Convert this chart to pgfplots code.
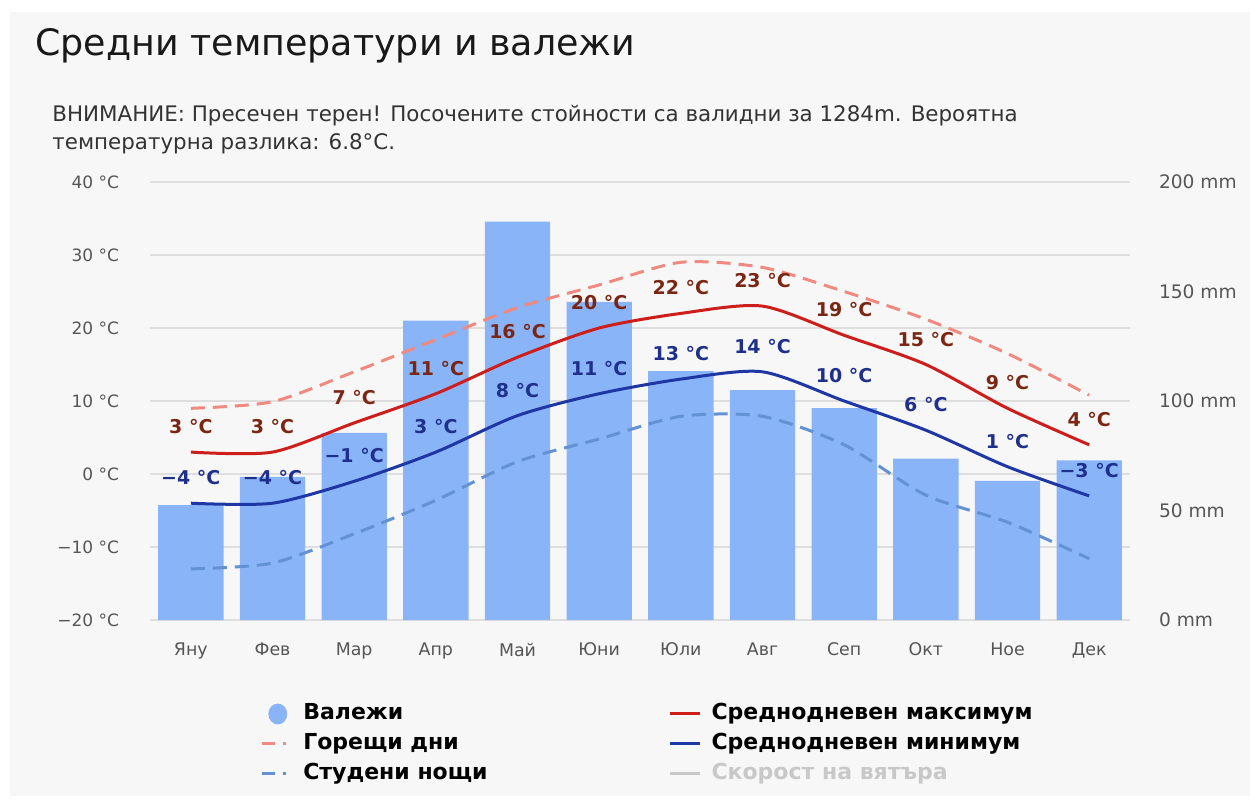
\documentclass[border=0pt]{standalone}
\usepackage{fontspec}
\setmainfont{DejaVu Sans}
\usepackage{pgfplots}
\pgfplotsset{compat=1.18}

\definecolor{panel}{RGB}{247,247,247}
\definecolor{gridc}{RGB}{222,222,222}
\definecolor{tickc}{RGB}{85,85,85}
\definecolor{barc}{RGB}{138,180,248}
\definecolor{maxc}{RGB}{205,30,28}
\definecolor{minc}{RGB}{30,55,165}
\definecolor{hotc}{RGB}{240,138,128}
\definecolor{coldc}{RGB}{98,146,212}
\definecolor{maxlab}{RGB}{122,38,18}
\definecolor{minlab}{RGB}{30,48,140}
\definecolor{windc}{RGB}{200,200,200}

\begin{document}
\begin{tikzpicture}
% page 1255x800 px, 1px = 0.5pt
\fill[white] (0,0) rectangle (627.5pt,400pt);
\fill[panel] (5pt,2pt) rectangle (625pt,394pt);
\node[anchor=base west, inner sep=0pt, font=\fontsize{18.2}{22}\selectfont, text=black!90]
  at (17.5pt,372pt) {Средни температури и валежи};
\node[anchor=base west, inner sep=0pt, align=left, font=\fontsize{10.7}{14}\selectfont, text=black!80]
  at (26pt,325pt) {ВНИМАНИЕ: Пресечен терен! Посочените стойности са валидни за 1284m. Вероятна\\температурна разлика: 6.8°C.};

% precipitation (right axis, bars)
\begin{axis}[
  at={(75pt,90pt)}, anchor=south west, scale only axis,
  width=490pt, height=219pt,
  xmin=-0.5, xmax=11.5, ymin=0, ymax=200,
  hide x axis, axis y line*=right, axis line style={draw=none},
  major tick length=0pt,
  ytick={0,50,...,200}, yticklabels={0 mm,50 mm,100 mm,150 mm,200 mm},
  yticklabel style={font=\fontsize{9.3}{10}\selectfont, text=tickc, xshift=11pt},
  extra y ticks={0,33.333,66.667,100,133.333,166.667,200},
  extra y tick labels={},
  extra y tick style={grid=major, major grid style={gridc, line width=0.6pt}},
  ybar, bar width=0.8,
]
\addplot[fill=barc, draw=none] coordinates {
  (0,52.5) (1,65.4) (2,85.5) (3,136.7) (4,181.9) (5,145.3)
  (6,113.7) (7,105.0) (8,96.7) (9,73.7) (10,63.5) (11,72.9)};
\end{axis}

% temperatures (left axis, lines)
\begin{axis}[
  at={(75pt,90pt)}, anchor=south west, scale only axis,
  width=490pt, height=219pt,
  xmin=-0.5, xmax=11.5, ymin=-20, ymax=40,
  axis x line*=bottom, axis y line*=left, axis line style={draw=none},
  major tick length=0pt,
  xtick={0,...,11},
  xticklabels={Яну,Фев,Мар,Апр,Май,Юни,Юли,Авг,Сеп,Окт,Ное,Дек},
  xticklabel style={font=\fontsize{8.7}{10}\selectfont, text=tickc, yshift=-8pt},
  ytick={-20,-10,...,40},
  yticklabels={−20 °C,−10 °C,0 °C,10 °C,20 °C,30 °C,40 °C},
  yticklabel style={font=\fontsize{8.5}{10}\selectfont, text=tickc, xshift=-12pt},
  legend columns=2, legend cell align=left,
  legend style={at={(0.106,-0.176)}, anchor=north west, draw=none, fill=none,
    font=\bfseries\fontsize{11}{12}\selectfont, row sep=2.5pt,
    nodes={inner sep=1pt, text height=8pt, text depth=2.5pt},
    /tikz/every odd column/.append style={column sep=4pt},
    /tikz/every even column/.append style={column sep=89.5pt}},
  every node near coord/.append style={font=\bfseries\fontsize{9.5}{10}\selectfont,
    anchor=south, inner sep=1pt, text depth=0pt, yshift=7.5pt},
]
\addplot[forget plot, hotc, line width=1.5pt, dash pattern=on 7pt off 4pt, smooth, tension=0.45]
  coordinates {(0,9) (1,9.9) (2,14) (3,18.4) (4,22.8) (5,25.9)
  (6,29) (7,28.3) (8,25) (9,21.2) (10,16.5) (11,10.8)};
\addplot[forget plot, coldc, line width=1.5pt, dash pattern=on 7pt off 4pt, smooth, tension=0.45]
  coordinates {(0,-13) (1,-12.2) (2,-8.2) (3,-3.6) (4,1.7) (5,4.8)
  (6,7.9) (7,7.9) (8,4) (9,-2.9) (10,-6.6) (11,-11.6)};
\addplot[forget plot, maxc, line width=1.5pt, smooth, tension=0.45,
  point meta=explicit symbolic, nodes near coords,
  every node near coord/.append style={text=maxlab}]
  coordinates {(0,3) [3 °C] (1,3) [3 °C] (2,7) [7 °C] (3,11) [11 °C]
  (4,16) [16 °C] (5,20) [20 °C] (6,22) [22 °C] (7,23) [23 °C]
  (8,19) [19 °C] (9,15) [15 °C] (10,9) [9 °C] (11,4) [4 °C]};
\addplot[forget plot, minc, line width=1.5pt, smooth, tension=0.45,
  point meta=explicit symbolic, nodes near coords,
  every node near coord/.append style={text=minlab}]
  coordinates {(0,-4) [−4 °C] (1,-4) [−4 °C] (2,-1) [−1 °C] (3,3) [3 °C]
  (4,8) [8 °C] (5,11) [11 °C] (6,13) [13 °C] (7,14) [14 °C]
  (8,10) [10 °C] (9,6) [6 °C] (10,1) [1 °C] (11,-3) [−3 °C]};

\addlegendimage{legend image code/.code={\fill[barc] (8pt,0pt) ellipse (4.5pt and 5pt);}}
\addlegendentry{Валежи}
\addlegendimage{legend image code/.code={\draw[maxc, line width=1.5pt] (0pt,0pt) -- (15pt,0pt);}}
\addlegendentry{Среднодневен максимум}
\addlegendimage{legend image code/.code={\draw[hotc, line width=1.5pt, dash pattern=on 6.5pt off 4pt on 1.5pt off 4pt] (0pt,0pt) -- (15pt,0pt);}}
\addlegendentry{Горещи дни}
\addlegendimage{legend image code/.code={\draw[minc, line width=1.5pt] (0pt,0pt) -- (15pt,0pt);}}
\addlegendentry{Среднодневен минимум}
\addlegendimage{legend image code/.code={\draw[coldc, line width=1.5pt, dash pattern=on 6.5pt off 4pt on 1.5pt off 4pt] (0pt,0pt) -- (15pt,0pt);}}
\addlegendentry{Студени нощи}
\addlegendimage{legend image code/.code={\draw[windc, line width=1.5pt] (0pt,0pt) -- (15pt,0pt);}}
\addlegendentry{\textcolor{windc}{Скорост на вятъра}}
\end{axis}
\end{tikzpicture}
\end{document}
